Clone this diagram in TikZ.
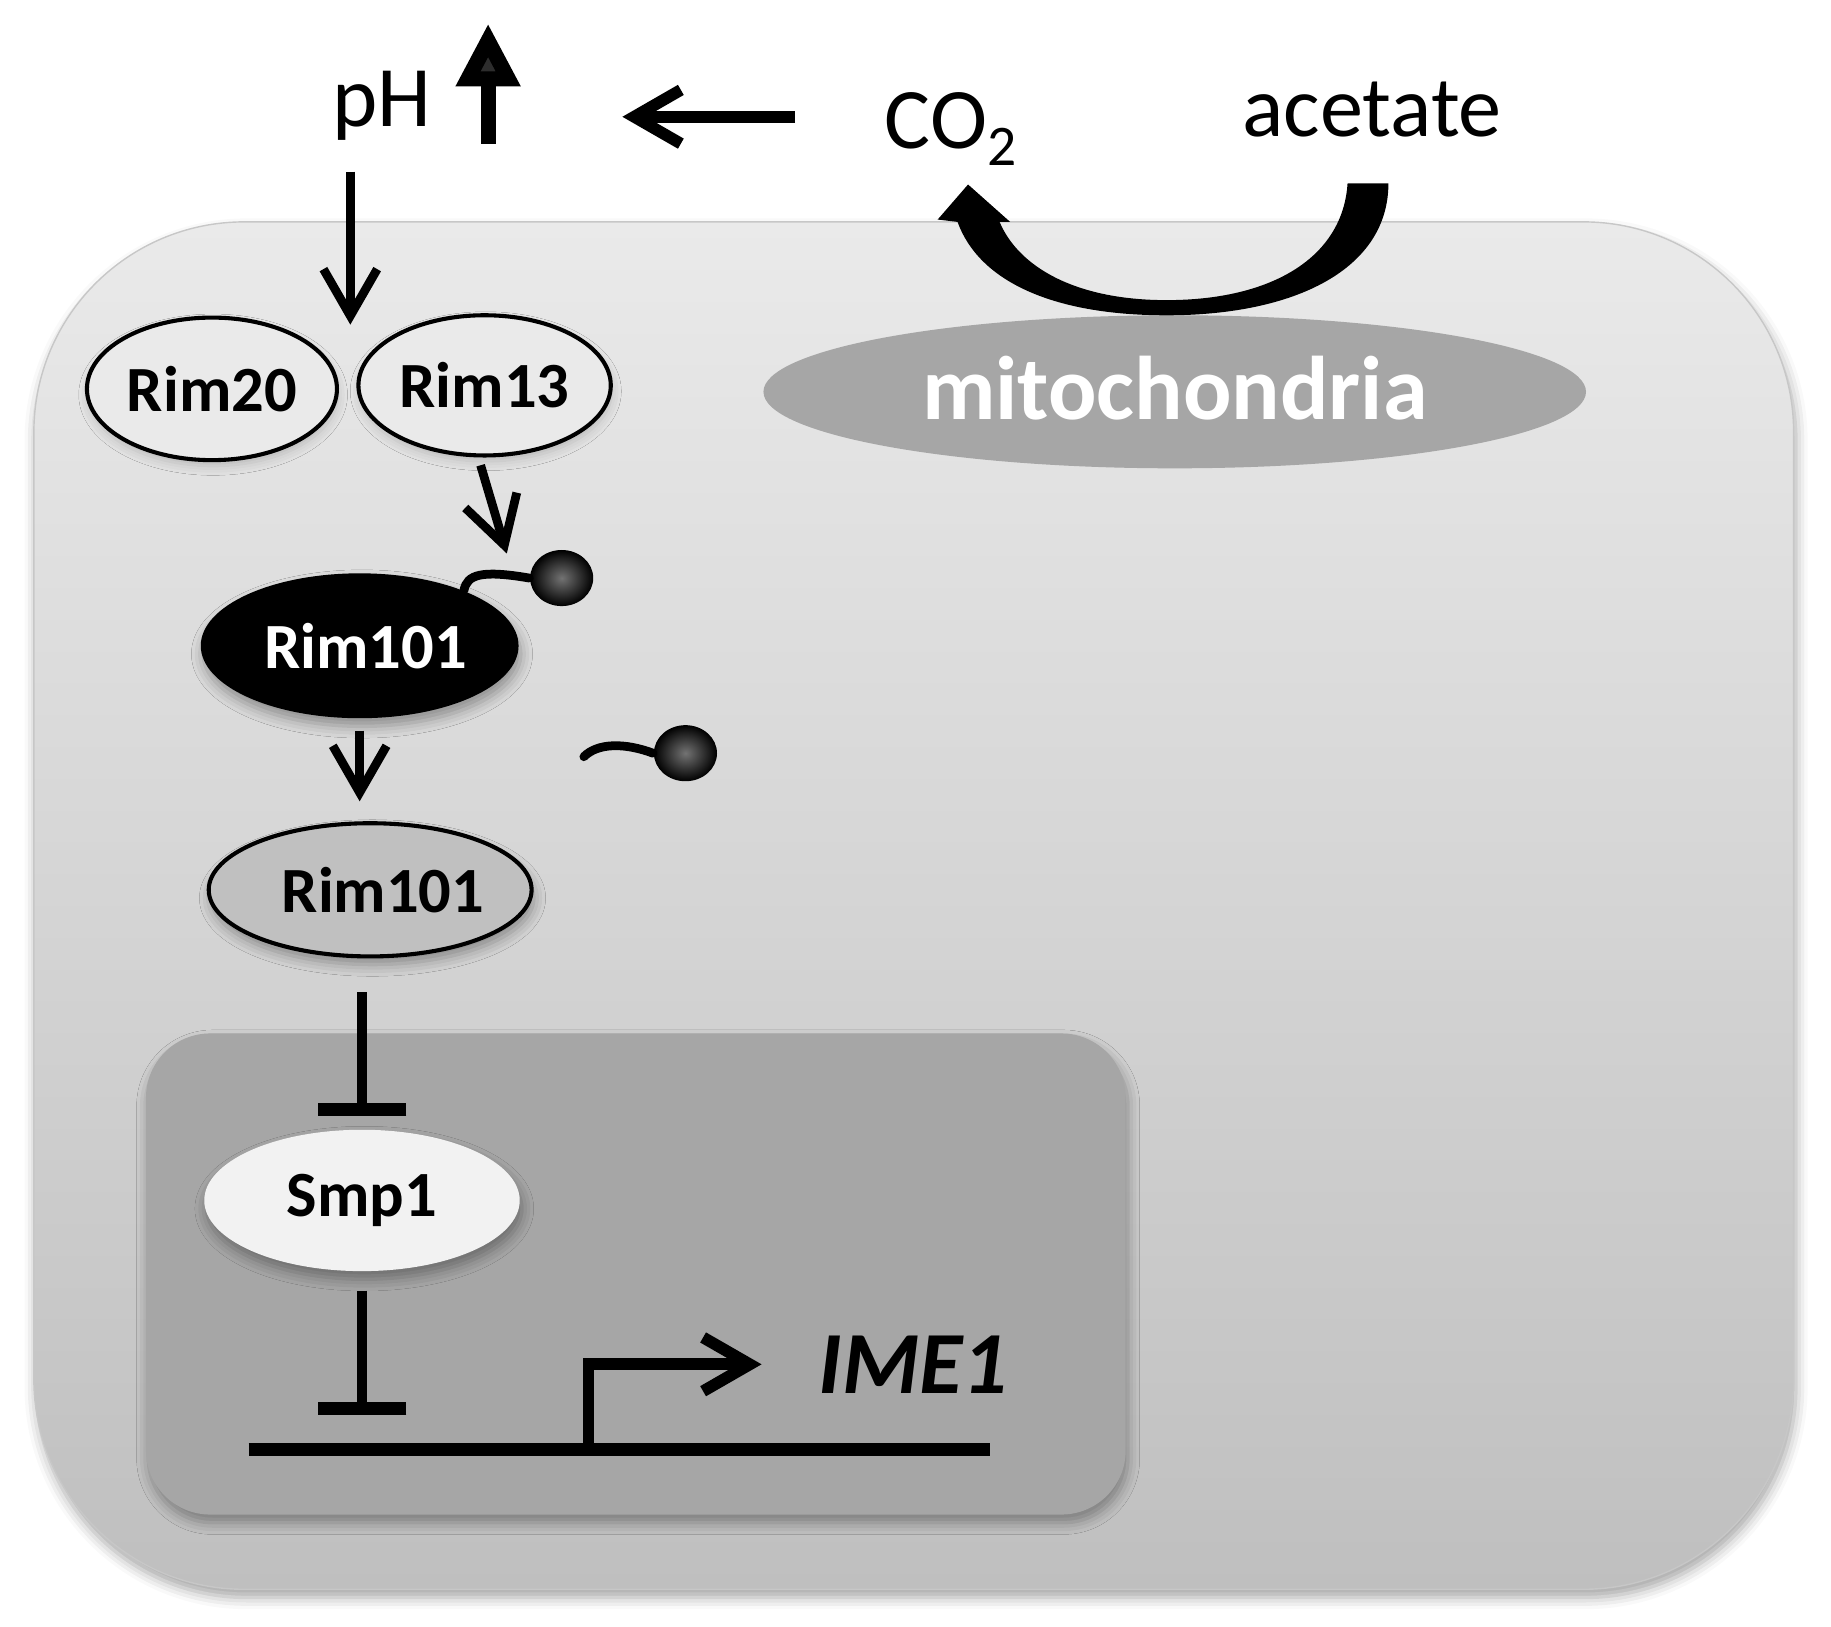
\documentclass[tikz,border=0pt]{standalone}
\usepackage{fontspec}
\setmainfont{Carlito}
\usetikzlibrary{arrows.meta,shapes.geometric,shadows.blur,calc}
\definecolor{celltop}{HTML}{EAEAEA}
\definecolor{cellbot}{HTML}{BFBFBF}
\definecolor{nucl}{HTML}{A6A6A6}
\definecolor{rimgray}{HTML}{C0C0C0}
\definecolor{smpfill}{HTML}{F2F2F2}
\begin{document}
\begin{tikzpicture}[x=0.01cm,y=-0.01cm,
  lab/.style={font=\fontsize{21pt}{25pt}\selectfont, inner sep=0pt, anchor=base},
  prot/.style={ellipse, inner sep=0pt, font=\bfseries\fontsize{15.7pt}{19pt}\selectfont},
  outl/.style={draw=black, line width=0.035cm},
  act/.style={line width=0.075cm, -{Straight Barb[length=0.4cm,width=0.46cm]}},
  thickact/.style={line width=0.1cm, -{Straight Barb[length=0.4cm,width=0.46cm]}},
  inh/.style={line width=0.09cm, -{Bar[width=0.76cm,line width=0.11cm]}},
  pep/.style={ellipse, minimum width=0.54cm, minimum height=0.48cm, inner sep=0pt, shading=radial, inner color=black!55, outer color=black},
  stem/.style={line width=0.075cm, line cap=round},
  softshadow/.style={blur shadow={shadow xshift=0.02cm, shadow yshift=-0.07cm, shadow blur radius=0.1cm, shadow opacity=35}},
  lightshadow/.style={blur shadow={shadow xshift=0.01cm, shadow yshift=-0.05cm, shadow blur radius=0.08cm, shadow opacity=18}},
]
\useasboundingbox (0,0) rectangle (1568,1393);
% cell
\path[top color=celltop, bottom color=cellbot, draw=black!22, line width=0.012cm, rounded corners=1.8cm, softshadow] (29,190) rectangle (1536,1361);
% nucleus
\path[fill=nucl, rounded corners=0.55cm, softshadow] (125,885) rectangle (964,1297);
% mitochondria
\node[ellipse, fill=nucl, minimum width=7.04cm, minimum height=1.31cm, inner sep=0pt, text=white, font=\bfseries\fontsize{22pt}{26pt}\selectfont] (mito) at (1006,335.5) {\raisebox{0.06cm}{mitochondria}};
% labels
\node[lab] (ph) at (327,108.5) {pH};
\node[lab] (co2) at (814,127) {CO\raisebox{-0.15cm}{\fontsize{14pt}{16pt}\selectfont 2}};
\node[lab] (acetate) at (1175,117) {acetate};
% proteins
\node[prot, outl, fill=celltop, lightshadow, minimum width=2.14cm, minimum height=1.22cm] (rim20) at (181.5,333) {Rim20};
\node[prot, outl, fill=celltop, lightshadow, minimum width=2.16cm, minimum height=1.2cm] (rim13) at (415,330) {Rim13};
\node[prot, fill=black, text=white, minimum width=2.72cm, minimum height=1.24cm, softshadow] (rim101a) at (308,553) {\hspace*{0.1cm}Rim101};
\node[prot, outl, fill=rimgray, minimum width=2.7cm, minimum height=1.14cm, softshadow] (rim101b) at (317,762) {\hspace*{0.22cm}Rim101};
\node[prot, fill=smpfill, minimum width=2.7cm, minimum height=1.21cm, softshadow] (smp1) at (310,1028) {Smp1};
\node[font=\bfseries\itshape\fontsize{21.6pt}{26pt}\selectfont, inner sep=0pt, anchor=base] (ime1) at (782,1193) {IME1};
% pH up arrow
\coordinate (upB) at (418,123);
\coordinate (upT) at (418,20);
\draw[line width=0.13cm, -{Triangle[length=0.54cm,width=0.52cm]}] (upB) -- (upT);
% CO2 -> pH
\coordinate (lA) at (681,100);
\coordinate (lB) at (533,100);
\draw[thickact] (lA) -- (lB);
% acetate -> CO2 curved arrow
\fill (1189,157) .. controls (1189,230) and (1110,270) .. (999,270)
  .. controls (900,270) and (838,240) .. (820,190) -- (803,188) -- (829,158) -- (865,190) -- (856,190)
  .. controls (872,228) and (920,257) .. (999,257)
  .. controls (1090,257) and (1150,220) .. (1154,157) -- cycle;
% pH -> Rim
\coordinate (phA) at (300,147);
\coordinate (phB) at (300,278);
\draw[act] (phA) -- (phB);
% Rim13 -> Rim101
\coordinate (r13tip) at (434,474);
\draw[act, shorten <=0.07cm] (rim13.265) -- (r13tip);
% peptides
\node[pep] (ball1) at (481,495) {};
\node[pep] (ball2) at (587,645) {};
\draw[stem] (rim101a.28) .. controls (400,492) and (412,488) .. (ball1.west);
\coordinate (pfree) at (500,648);
\draw[stem] (pfree) .. controls (512,636) and (535,636) .. (ball2.west);
% Rim101 -> Rim101
\draw[act, shorten <=0.1cm, shorten >=0.17cm] (rim101a.south) -- (rim101a.south |- rim101b.north);
% inhibitions
\draw[inh, shorten <=0.29cm, shorten >=0.11cm] (rim101b.south -| smp1.north) -- (smp1.north);
\coordinate (dnaL) at (213,1241);
\coordinate (dnaR) at (848,1241);
\draw[line width=0.11cm] (dnaL) -- (dnaR);
\draw[inh, shorten <=0.16cm, shorten >=0.29cm] (smp1.south) -- (smp1.south |- dnaL);
% promoter
\coordinate (promo) at (504,1241);
\draw[thickact, shorten >=0.48cm] (promo) |- (ime1.west);
\end{tikzpicture}
\end{document}
